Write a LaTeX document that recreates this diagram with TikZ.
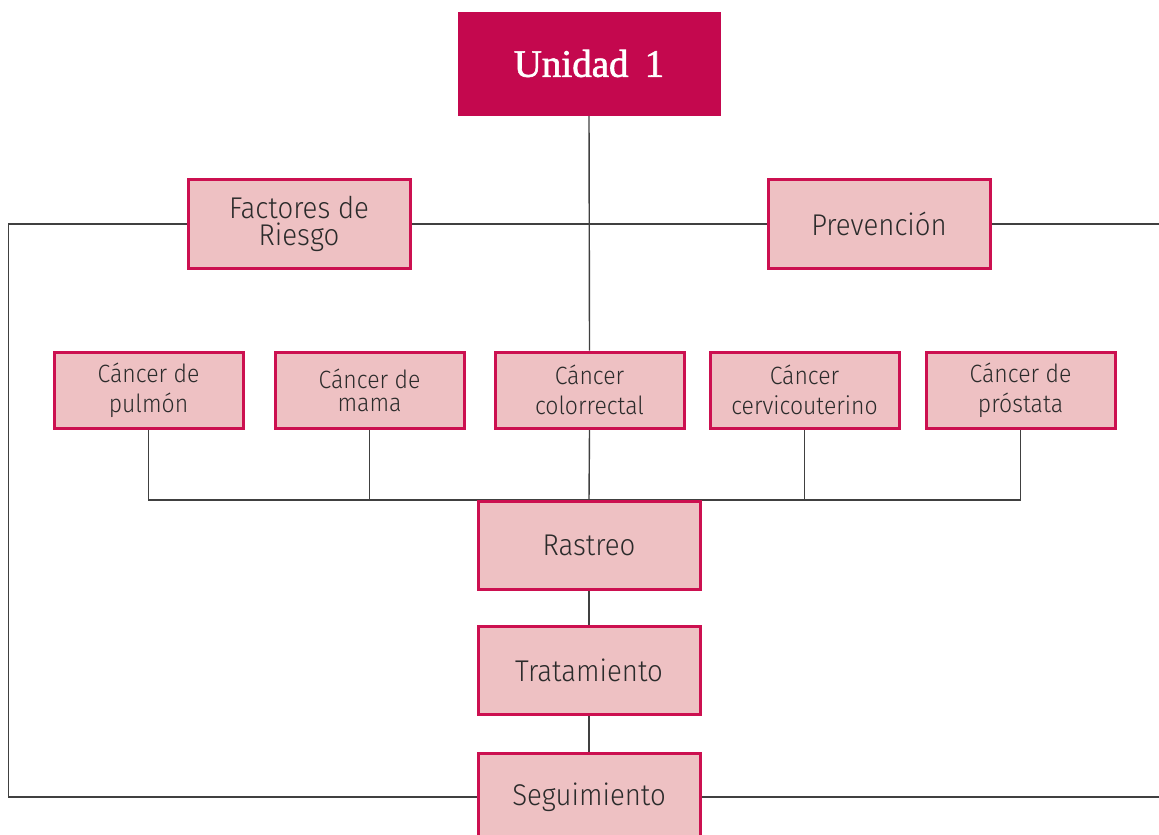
\documentclass[tikz,border=0pt]{standalone}
\usepackage{fontspec}
\setmainfont{Fira Sans Light}[FakeStretch=0.92]
\newfontfamily\titlefont{Liberation Serif}[FakeBold=1.5]
\usetikzlibrary{backgrounds}
\definecolor{magent}{RGB}{196,8,78}
\definecolor{rim}{RGB}{204,16,80}
\definecolor{rose}{RGB}{238,193,195}
\definecolor{ink}{RGB}{43,43,43}
\tikzset{
    unit/.style={fill=magent, draw=magent, minimum width=131pt, minimum height=51.5pt,
        text=white, font=\titlefont\fontsize{19.5}{22}\selectfont},
    topic/.style={fill=rose, draw=rim, line width=1.5pt, minimum width=111pt,
        minimum height=44pt, text=ink, align=center, inner sep=0pt},
    kind/.style={topic, minimum width=94.5pt, minimum height=38pt},
    wire/.style={draw=ink!90, line width=0.7pt},
}
\begin{document}
\begin{tikzpicture}[x=0.5pt, y=-0.5pt]
    \clip (0,0) rectangle (1159,834);
    \useasboundingbox (0,0) rectangle (1159,834);
    \node[unit] (uni) at (589,63.5) {Unidad\ \,1};
    \node[topic, font=\fontsize{15}{13.5}\selectfont] (fac) at (299,224) {Factores de\\Riesgo};
    \node[topic, font=\fontsize{15}{18}\selectfont] (pre) at (879,224) {Prevención};
    \node[kind, font=\fontsize{12.5}{15}\selectfont] (pul) at (148.5,390) {Cáncer de\\pulmón};
    \node[kind, font=\fontsize{12.5}{11.5}\selectfont] (mam) at (369.5,390) {Cáncer de\\mama};
    \node[kind, font=\fontsize{12.5}{15}\selectfont] (col) at (589.5,390) {Cáncer\\colorrectal};
    \node[kind, font=\fontsize{12.5}{15}\selectfont] (cer) at (804.5,390) {Cáncer\\cervicouterino};
    \node[kind, font=\fontsize{12.5}{15}\selectfont] (pro) at (1020.5,390) {Cáncer de\\próstata};
    \node[topic, font=\fontsize{15}{18}\selectfont] (ras) at (589,545.5) {Rastreo};
    \node[topic, font=\fontsize{15}{18}\selectfont] (tra) at (589,670) {Tratamiento};
    \node[topic, font=\fontsize{15}{18}\selectfont] (seg) at (589,797) {Seguimiento};
    \coordinate (edge) at (1159,0);
    \begin{scope}[on background layer]
        \draw[wire] (uni.south) -- (col.north);
        \draw[wire] (fac.east) -- (pre.west);
        \draw[wire] (fac.west) -- ++(-178,0) |- (seg.west);
        \draw[wire] (pre.east) -- (pre.east -| edge);
        \draw[wire] (seg.east) -- (seg.east -| edge);
        \draw[wire] (pul.south) |- (ras.north);
        \draw[wire] (pro.south) |- (ras.north);
        \draw[wire] (mam.south) -- (mam.south |- ras.north);
        \draw[wire] (cer.south) -- (cer.south |- ras.north);
        \draw[wire] (col.south) -- (ras.north);
        \draw[wire] (ras.south) -- (tra.north);
        \draw[wire] (tra.south) -- (seg.north);
    \end{scope}
\end{tikzpicture}
\end{document}
